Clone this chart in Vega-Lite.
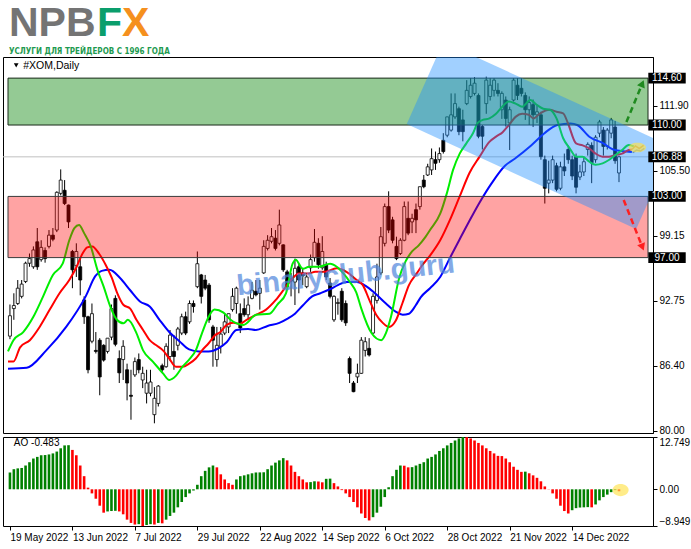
{
"$schema": "https://vega.github.io/schema/vega-lite/v6.json",
"padding": {"left": 2, "top": 0, "right": 0, "bottom": 0},
"background": "white",
"spacing": 4,
"bounds": "flush",
"config": {"view": {"stroke": "#000", "strokeWidth": 1}, "axis": {"labelFont": "Liberation Sans", "labelFontSize": 10, "labelColor": "#000", "domainColor": "#000", "tickColor": "#000", "grid": false, "title": null}},
"datasets": {
"candles": [
{"i":0,"o":89.3,"h":92.4,"l":89.0,"c":91.3},{"i":1,"o":92.0,"h":93.5,"l":90.9,"c":92.3},{"i":2,"o":92.5,"h":94.8,"l":92.35,"c":94.0},{"i":3,"o":93.2,"h":94.8,"l":93.0,"c":94.4},{"i":4,"o":94.65,"h":96.6,"l":94.5,"c":96.45},{"i":5,"o":96.45,"h":97.4,"l":96.1,"c":96.9},{"i":6,"o":96.1,"h":98.1,"l":95.9,"c":97.75},{"i":7,"o":98.55,"h":99.9,"l":95.8,"c":96.1},{"i":8,"o":96.8,"h":98.7,"l":96.6,"c":98.0},{"i":9,"o":97.7,"h":98.0,"l":96.5,"c":96.9},
{"i":10,"o":98.1,"h":99.7,"l":97.9,"c":99.2},{"i":11,"o":99.2,"h":99.9,"l":98.6,"c":98.8},{"i":12,"o":99.7,"h":103.5,"l":99.5,"c":103.4},{"i":13,"o":103.3,"h":105.65,"l":103.1,"c":104.6},{"i":14,"o":103.6,"h":104.6,"l":102.15,"c":102.3},{"i":15,"o":102.15,"h":102.2,"l":99.9,"c":100.5},{"i":16,"o":97.6,"h":97.75,"l":94.0,"c":95.8},{"i":17,"o":96.2,"h":98.4,"l":95.1,"c":97.6},{"i":18,"o":96.1,"h":96.9,"l":93.3,"c":94.8},{"i":19,"o":92.85,"h":93.2,"l":90.5,"c":91.2},
{"i":20,"o":91.2,"h":91.3,"l":85.65,"c":86.0},{"i":21,"o":88.8,"h":92.5,"l":88.6,"c":91.5},{"i":22,"o":87.9,"h":89.7,"l":87.6,"c":87.8},{"i":23,"o":88.9,"h":89.1,"l":83.5,"c":85.3},{"i":24,"o":88.4,"h":88.5,"l":86.8,"c":86.95},{"i":25,"o":87.8,"h":89.1,"l":87.6,"c":89.1},{"i":26,"o":89.2,"h":92.4,"l":88.9,"c":92.0},{"i":27,"o":93.0,"h":93.3,"l":88.3,"c":88.5},{"i":28,"o":87.1,"h":87.9,"l":84.7,"c":85.7},{"i":29,"o":87.0,"h":88.9,"l":85.0,"c":88.3},
{"i":30,"o":86.0,"h":86.6,"l":83.0,"c":84.7},{"i":31,"o":83.5,"h":86.0,"l":81.1,"c":83.4},{"i":32,"o":85.5,"h":87.2,"l":85.3,"c":86.8},{"i":33,"o":87.0,"h":87.6,"l":85.65,"c":86.0},{"i":34,"o":85.0,"h":86.3,"l":84.2,"c":85.65},{"i":35,"o":83.7,"h":86.0,"l":82.7,"c":84.7},{"i":36,"o":83.7,"h":86.0,"l":83.4,"c":84.8},{"i":37,"o":81.6,"h":84.3,"l":80.75,"c":83.2},{"i":38,"o":82.7,"h":84.5,"l":82.4,"c":84.4},{"i":39,"o":86.4,"h":86.6,"l":85.8,"c":86.0},
{"i":40,"o":86.3,"h":88.6,"l":86.2,"c":88.3},{"i":41,"o":87.3,"h":89.9,"l":86.9,"c":89.4},{"i":42,"o":87.8,"h":89.4,"l":86.0,"c":87.3},{"i":43,"o":88.4,"h":90.2,"l":87.9,"c":90.0},{"i":44,"o":89.6,"h":91.5,"l":89.4,"c":91.2},{"i":45,"o":91.2,"h":91.7,"l":89.4,"c":89.6},{"i":46,"o":90.7,"h":92.8,"l":90.5,"c":92.5},{"i":47,"o":92.5,"h":92.8,"l":91.6,"c":92.2},{"i":48,"o":94.15,"h":97.6,"l":94.0,"c":96.4},{"i":49,"o":95.3,"h":95.4,"l":92.5,"c":93.2},
{"i":50,"o":94.8,"h":95.3,"l":93.8,"c":94.0},{"i":51,"o":94.3,"h":94.5,"l":90.6,"c":90.9},{"i":52,"o":90.2,"h":90.4,"l":86.3,"c":88.9},{"i":53,"o":87.0,"h":90.2,"l":86.3,"c":88.4},{"i":54,"o":88.3,"h":90.2,"l":87.6,"c":89.5},{"i":55,"o":89.6,"h":91.5,"l":89.4,"c":90.7},{"i":56,"o":90.2,"h":91.5,"l":89.6,"c":91.5},{"i":57,"o":91.9,"h":94.0,"l":91.7,"c":93.2},{"i":58,"o":92.5,"h":94.15,"l":91.5,"c":94.0},{"i":59,"o":91.5,"h":92.5,"l":89.6,"c":90.1},
{"i":60,"o":92.0,"h":93.0,"l":91.2,"c":91.4},{"i":61,"o":91.4,"h":93.2,"l":90.9,"c":92.35},{"i":62,"o":93.0,"h":94.6,"l":92.9,"c":93.8},{"i":63,"o":93.7,"h":94.8,"l":93.2,"c":93.35},{"i":64,"o":93.5,"h":94.8,"l":91.9,"c":94.0},{"i":65,"o":95.5,"h":98.7,"l":95.4,"c":98.1},{"i":66,"o":97.9,"h":99.2,"l":97.7,"c":98.7},{"i":67,"o":98.6,"h":99.9,"l":98.4,"c":99.05},{"i":68,"o":98.9,"h":99.7,"l":97.7,"c":97.9},{"i":69,"o":98.4,"h":101.7,"l":98.2,"c":100.2},
{"i":70,"o":98.25,"h":98.3,"l":95.6,"c":95.8},{"i":71,"o":95.6,"h":95.8,"l":94.0,"c":94.15},{"i":72,"o":94.9,"h":95.5,"l":93.2,"c":94.7},{"i":73,"o":94.6,"h":96.9,"l":92.35,"c":95.95},{"i":74,"o":96.1,"h":96.4,"l":93.5,"c":94.8},{"i":75,"o":95.5,"h":96.0,"l":94.3,"c":95.2},{"i":76,"o":94.15,"h":95.3,"l":94.0,"c":95.1},{"i":77,"o":96.0,"h":97.3,"l":95.6,"c":96.8},{"i":78,"o":97.0,"h":99.8,"l":96.6,"c":98.5},{"i":79,"o":98.4,"h":98.9,"l":95.9,"c":96.3},
{"i":80,"o":96.0,"h":99.1,"l":95.8,"c":97.6},{"i":81,"o":96.3,"h":96.6,"l":94.8,"c":95.1},{"i":82,"o":94.5,"h":95.0,"l":93.0,"c":93.2},{"i":83,"o":90.9,"h":93.3,"l":90.7,"c":93.2},{"i":84,"o":92.5,"h":93.0,"l":91.4,"c":92.6},{"i":85,"o":93.7,"h":94.0,"l":90.7,"c":90.9},{"i":86,"o":92.5,"h":92.8,"l":90.3,"c":90.6},{"i":87,"o":87.1,"h":87.3,"l":84.7,"c":85.65},{"i":88,"o":84.7,"h":84.9,"l":83.8,"c":83.85},{"i":89,"o":85.3,"h":86.6,"l":84.7,"c":85.65},
{"i":90,"o":85.65,"h":89.2,"l":85.6,"c":88.9},{"i":91,"o":87.9,"h":89.2,"l":87.3,"c":88.75},{"i":92,"o":88.1,"h":89.1,"l":87.3,"c":87.45},{"i":93,"o":89.6,"h":93.5,"l":89.5,"c":93.2},{"i":94,"o":92.8,"h":96.4,"l":92.5,"c":95.1},{"i":95,"o":95.5,"h":100.0,"l":95.3,"c":99.05},{"i":96,"o":98.4,"h":102.3,"l":98.1,"c":102.0},{"i":97,"o":102.0,"h":103.5,"l":99.4,"c":99.7},{"i":98,"o":100.7,"h":101.0,"l":98.4,"c":98.7},{"i":99,"o":98.1,"h":99.05,"l":96.75,"c":96.9},
{"i":100,"o":97.4,"h":98.9,"l":97.25,"c":98.7},{"i":101,"o":98.7,"h":102.5,"l":98.6,"c":102.0},{"i":102,"o":100.85,"h":102.5,"l":99.2,"c":99.4},{"i":103,"o":100.5,"h":101.3,"l":99.4,"c":100.85},{"i":104,"o":101.7,"h":102.3,"l":99.4,"c":100.7},{"i":105,"o":102.0,"h":103.95,"l":101.7,"c":103.95},{"i":106,"o":104.6,"h":105.1,"l":103.8,"c":103.95},{"i":107,"o":105.1,"h":106.2,"l":105.0,"c":105.9},{"i":108,"o":105.6,"h":107.7,"l":105.1,"c":106.7},{"i":109,"o":106.6,"h":107.4,"l":105.6,"c":106.25},
{"i":110,"o":106.6,"h":107.8,"l":106.3,"c":107.2},{"i":111,"o":108.5,"h":109.2,"l":107.2,"c":107.4},{"i":112,"o":109.0,"h":110.8,"l":108.8,"c":110.8},{"i":113,"o":109.5,"h":113.1,"l":109.35,"c":111.0},{"i":114,"o":110.8,"h":113.1,"l":110.6,"c":112.1},{"i":115,"o":111.6,"h":111.8,"l":109.0,"c":109.35},{"i":116,"o":110.5,"h":111.5,"l":108.4,"c":109.35},{"i":117,"o":112.1,"h":114.4,"l":111.95,"c":113.4},{"i":118,"o":112.8,"h":114.6,"l":112.6,"c":113.9},{"i":119,"o":113.1,"h":114.7,"l":112.9,"c":114.1},
{"i":120,"o":112.9,"h":113.1,"l":108.7,"c":108.9},{"i":121,"o":109.85,"h":110.0,"l":107.6,"c":108.9},{"i":122,"o":112.1,"h":114.75,"l":111.1,"c":114.4},{"i":123,"o":112.8,"h":114.6,"l":112.4,"c":113.9},{"i":124,"o":113.4,"h":114.6,"l":112.8,"c":114.4},{"i":125,"o":113.4,"h":114.1,"l":112.8,"c":113.1},{"i":126,"o":111.5,"h":113.3,"l":110.6,"c":113.1},{"i":127,"o":112.45,"h":112.8,"l":109.85,"c":110.65},{"i":128,"o":110.2,"h":111.8,"l":107.55,"c":111.5},{"i":129,"o":112.45,"h":114.6,"l":112.3,"c":114.4},
{"i":130,"o":113.9,"h":114.6,"l":112.45,"c":112.9},{"i":131,"o":113.6,"h":114.6,"l":112.8,"c":113.1},{"i":132,"o":112.9,"h":113.2,"l":110.5,"c":111.5},{"i":133,"o":111.5,"h":112.8,"l":110.0,"c":112.2},{"i":134,"o":112.0,"h":112.5,"l":109.8,"c":111.0},{"i":135,"o":111.0,"h":112.0,"l":110.2,"c":111.3},{"i":136,"o":111.0,"h":111.3,"l":106.6,"c":106.9},{"i":137,"o":106.6,"h":107.0,"l":102.3,"c":103.8},{"i":138,"o":104.3,"h":106.5,"l":103.3,"c":104.6},{"i":139,"o":104.6,"h":107.0,"l":104.3,"c":106.6},
{"i":140,"o":106.0,"h":106.3,"l":103.5,"c":103.7},{"i":141,"o":103.8,"h":106.4,"l":103.6,"c":105.9},{"i":142,"o":105.9,"h":107.2,"l":105.0,"c":105.5},{"i":143,"o":107.6,"h":108.0,"l":106.2,"c":106.6},{"i":144,"o":106.6,"h":107.0,"l":104.6,"c":105.0},{"i":145,"o":106.9,"h":107.2,"l":103.3,"c":103.9},{"i":146,"o":104.9,"h":106.1,"l":104.6,"c":105.4},{"i":147,"o":105.4,"h":106.9,"l":105.0,"c":106.4},{"i":148,"o":107.6,"h":108.3,"l":107.0,"c":108.1},{"i":149,"o":108.0,"h":108.3,"l":104.3,"c":106.3},
{"i":150,"o":106.6,"h":109.0,"l":106.3,"c":108.8},{"i":151,"o":109.2,"h":110.5,"l":108.8,"c":110.3},{"i":152,"o":109.5,"h":109.8,"l":107.0,"c":107.9},{"i":153,"o":107.9,"h":109.7,"l":107.6,"c":109.5},{"i":154,"o":109.2,"h":110.7,"l":108.7,"c":110.5},{"i":155,"o":109.8,"h":110.4,"l":106.2,"c":106.5},{"i":156,"o":105.3,"h":107.0,"l":104.4,"c":106.88}
],
"ma": [
{"s":"jaw","i":-0.5,"v":86.1},{"s":"jaw","i":4.3,"v":86.2},{"s":"jaw","i":9.3,"v":87.9},{"s":"jaw","i":14.4,"v":90.2},{"s":"jaw","i":19.4,"v":93.2},{"s":"jaw","i":21.9,"v":95.2},{"s":"jaw","i":23.5,"v":95.7},{"s":"jaw","i":25.5,"v":95.8},{"s":"jaw","i":28.2,"v":95.0},{"s":"jaw","i":30.8,"v":93.8},{"s":"jaw","i":33.3,"v":92.7},{"s":"jaw","i":35.8,"v":92.2},{"s":"jaw","i":38.3,"v":90.9},{"s":"jaw","i":40.8,"v":89.7},{"s":"jaw","i":43.4,"v":88.8},{"s":"jaw","i":45.9,"v":88.0},{"s":"jaw","i":48.4,"v":87.8},{"s":"jaw","i":50.9,"v":87.8},{"s":"jaw","i":53.4,"v":88.1},{"s":"jaw","i":55.5,"v":88.7},{"s":"jaw","i":58,"v":89.9},{"s":"jaw","i":61,"v":90.0},{"s":"jaw","i":63,"v":89.9},{"s":"jaw","i":66,"v":90.3},{"s":"jaw","i":69,"v":90.6},{"s":"jaw","i":71,"v":91.0},{"s":"jaw","i":73,"v":91.5},{"s":"jaw","i":75,"v":92.3},{"s":"jaw","i":77.4,"v":93.2},{"s":"jaw","i":79.5,"v":93.5},{"s":"jaw","i":82,"v":93.9},{"s":"jaw","i":84,"v":94.3},{"s":"jaw","i":86.2,"v":94.6},{"s":"jaw","i":88.8,"v":94.6},{"s":"jaw","i":91.2,"v":94.2},{"s":"jaw","i":93.5,"v":93.5},{"s":"jaw","i":96.3,"v":92.5},{"s":"jaw","i":98.8,"v":91.7},{"s":"jaw","i":100.6,"v":91.4},{"s":"jaw","i":102.2,"v":91.5},{"s":"jaw","i":103.9,"v":92.3},{"s":"jaw","i":105.2,"v":93.1},{"s":"jaw","i":107.6,"v":94.0},{"s":"jaw","i":110.2,"v":95.1},{"s":"jaw","i":112.6,"v":96.9},{"s":"jaw","i":115.2,"v":98.8},{"s":"jaw","i":118.4,"v":101.1},{"s":"jaw","i":120.3,"v":102.4},{"s":"jaw","i":123.4,"v":104.3},{"s":"jaw","i":126.8,"v":106.0},{"s":"jaw","i":129.3,"v":106.7},{"s":"jaw","i":133.5,"v":108.0},{"s":"jaw","i":136.9,"v":109.2},{"s":"jaw","i":140.2,"v":110.0},{"s":"jaw","i":143.6,"v":110.15},{"s":"jaw","i":145.3,"v":110.0},{"s":"jaw","i":148.6,"v":108.8},{"s":"jaw","i":152,"v":108.2},{"s":"jaw","i":154.5,"v":107.6},{"s":"jaw","i":157.9,"v":107.4},{"s":"jaw","i":159.3,"v":107.35},
{"s":"teeth","i":-0.5,"v":86.8},{"s":"teeth","i":0.9,"v":86.8},{"s":"teeth","i":2.6,"v":88.2},{"s":"teeth","i":5.1,"v":88.9},{"s":"teeth","i":7.6,"v":90.2},{"s":"teeth","i":10.2,"v":91.9},{"s":"teeth","i":12.7,"v":93.5},{"s":"teeth","i":15.2,"v":94.8},{"s":"teeth","i":16.9,"v":95.95},{"s":"teeth","i":18.6,"v":97.4},{"s":"teeth","i":19.8,"v":98.0},{"s":"teeth","i":21.1,"v":98.1},{"s":"teeth","i":22.8,"v":97.4},{"s":"teeth","i":24.5,"v":96.3},{"s":"teeth","i":26.1,"v":95.0},{"s":"teeth","i":27.4,"v":93.6},{"s":"teeth","i":29.1,"v":92.35},{"s":"teeth","i":30.8,"v":92.0},{"s":"teeth","i":32.4,"v":90.9},{"s":"teeth","i":34.1,"v":89.9},{"s":"teeth","i":35.8,"v":88.9},{"s":"teeth","i":37.5,"v":88.4},{"s":"teeth","i":39.2,"v":87.9},{"s":"teeth","i":40.8,"v":87.1},{"s":"teeth","i":42.5,"v":86.3},{"s":"teeth","i":44.2,"v":86.3},{"s":"teeth","i":45.9,"v":86.6},{"s":"teeth","i":47.6,"v":87.1},{"s":"teeth","i":49.2,"v":87.9},{"s":"teeth","i":50.9,"v":88.6},{"s":"teeth","i":52.6,"v":89.4},{"s":"teeth","i":53.9,"v":89.7},{"s":"teeth","i":55.5,"v":90.4},{"s":"teeth","i":57.2,"v":90.6},{"s":"teeth","i":58.9,"v":90.5},{"s":"teeth","i":60.6,"v":90.9},{"s":"teeth","i":63.1,"v":91.4},{"s":"teeth","i":65.6,"v":91.9},{"s":"teeth","i":68.1,"v":92.85},{"s":"teeth","i":70.7,"v":94.15},{"s":"teeth","i":72.4,"v":94.97},{"s":"teeth","i":74.0,"v":95.45},{"s":"teeth","i":76.5,"v":95.45},{"s":"teeth","i":78.2,"v":95.6},{"s":"teeth","i":80.5,"v":95.6},{"s":"teeth","i":83.7,"v":95.95},{"s":"teeth","i":86.2,"v":95.6},{"s":"teeth","i":88.5,"v":94.9},{"s":"teeth","i":90.4,"v":94.3},{"s":"teeth","i":92.1,"v":92.8},{"s":"teeth","i":93.8,"v":91.4},{"s":"teeth","i":95.5,"v":90.6},{"s":"teeth","i":97.1,"v":90.2},{"s":"teeth","i":98.8,"v":90.8},{"s":"teeth","i":100.5,"v":92.5},{"s":"teeth","i":102.2,"v":94.3},{"s":"teeth","i":104.3,"v":95.5},{"s":"teeth","i":105.5,"v":96.2},{"s":"teeth","i":107.6,"v":97.2},{"s":"teeth","i":110.2,"v":98.7},{"s":"teeth","i":112.7,"v":100.7},{"s":"teeth","i":115.2,"v":103.0},{"s":"teeth","i":117.7,"v":105.3},{"s":"teeth","i":120.3,"v":106.9},{"s":"teeth","i":122.8,"v":108.35},{"s":"teeth","i":124.5,"v":108.86},{"s":"teeth","i":126.2,"v":109.3},{"s":"teeth","i":127.8,"v":110.0},{"s":"teeth","i":129.5,"v":110.8},{"s":"teeth","i":131.2,"v":111.1},{"s":"teeth","i":132.9,"v":111.0},{"s":"teeth","i":134.1,"v":110.65},{"s":"teeth","i":135.8,"v":111.15},{"s":"teeth","i":138.3,"v":111.5},{"s":"teeth","i":140.0,"v":111.3},{"s":"teeth","i":141.7,"v":111.15},{"s":"teeth","i":142.9,"v":110.2},{"s":"teeth","i":145.0,"v":108.2},{"s":"teeth","i":146.7,"v":108.0},{"s":"teeth","i":148.4,"v":107.7},{"s":"teeth","i":150.0,"v":107.2},{"s":"teeth","i":151.8,"v":106.9},{"s":"teeth","i":153.4,"v":106.9},{"s":"teeth","i":155.1,"v":107.06},{"s":"teeth","i":156.8,"v":107.2},{"s":"teeth","i":158.5,"v":107.55},{"s":"teeth","i":159.3,"v":107.6},
{"s":"lips","i":-0.5,"v":87.8},{"s":"lips","i":0.9,"v":88.9},{"s":"lips","i":3.4,"v":89.7},{"s":"lips","i":6.0,"v":91.2},{"s":"lips","i":8.5,"v":93.2},{"s":"lips","i":11.0,"v":95.3},{"s":"lips","i":13.5,"v":96.4},{"s":"lips","i":15.2,"v":98.7},{"s":"lips","i":16.5,"v":99.9},{"s":"lips","i":17.7,"v":100.2},{"s":"lips","i":19.0,"v":99.4},{"s":"lips","i":20.7,"v":98.1},{"s":"lips","i":22.4,"v":95.8},{"s":"lips","i":24.0,"v":94.15},{"s":"lips","i":25.7,"v":92.2},{"s":"lips","i":27.4,"v":90.9},{"s":"lips","i":29.1,"v":90.55},{"s":"lips","i":30.2,"v":90.9},{"s":"lips","i":32.4,"v":89.6},{"s":"lips","i":34.1,"v":87.9},{"s":"lips","i":36.6,"v":86.8},{"s":"lips","i":39.2,"v":85.65},{"s":"lips","i":40.8,"v":85.0},{"s":"lips","i":42.5,"v":85.4},{"s":"lips","i":44.2,"v":86.3},{"s":"lips","i":45.9,"v":87.0},{"s":"lips","i":47.6,"v":87.9},{"s":"lips","i":49.2,"v":89.6},{"s":"lips","i":50.9,"v":91.2},{"s":"lips","i":52.4,"v":91.9},{"s":"lips","i":54.7,"v":91.6},{"s":"lips","i":56.5,"v":90.9},{"s":"lips","i":58.1,"v":90.55},{"s":"lips","i":59.8,"v":90.4},{"s":"lips","i":63.1,"v":91.4},{"s":"lips","i":66.5,"v":91.5},{"s":"lips","i":68.5,"v":92.4},{"s":"lips","i":70.7,"v":93.5},{"s":"lips","i":72.4,"v":96.4},{"s":"lips","i":73.2,"v":96.8},{"s":"lips","i":75.0,"v":95.9},{"s":"lips","i":76.6,"v":96.1},{"s":"lips","i":79.1,"v":96.1},{"s":"lips","i":82.0,"v":96.4},{"s":"lips","i":83.7,"v":96.1},{"s":"lips","i":85.4,"v":95.45},{"s":"lips","i":87.1,"v":94.6},{"s":"lips","i":88.7,"v":93.6},{"s":"lips","i":90.0,"v":92.0},{"s":"lips","i":92.6,"v":89.6},{"s":"lips","i":95.1,"v":88.9},{"s":"lips","i":96.3,"v":89.6},{"s":"lips","i":97.6,"v":91.2},{"s":"lips","i":99.7,"v":95.0},{"s":"lips","i":101.3,"v":96.6},{"s":"lips","i":103.0,"v":97.6},{"s":"lips","i":104.7,"v":98.2},{"s":"lips","i":106.4,"v":99.0},{"s":"lips","i":107.6,"v":99.7},{"s":"lips","i":110.2,"v":101.3},{"s":"lips","i":111.9,"v":103.3},{"s":"lips","i":113.5,"v":105.6},{"s":"lips","i":115.2,"v":107.2},{"s":"lips","i":116.9,"v":108.2},{"s":"lips","i":118.6,"v":109.2},{"s":"lips","i":119.8,"v":110.2},{"s":"lips","i":121.1,"v":110.5},{"s":"lips","i":122.8,"v":110.65},{"s":"lips","i":124.5,"v":111.1},{"s":"lips","i":126.1,"v":111.8},{"s":"lips","i":127.8,"v":112.3},{"s":"lips","i":129.5,"v":112.1},{"s":"lips","i":131.2,"v":111.8},{"s":"lips","i":133.3,"v":112.45},{"s":"lips","i":135,"v":111.96},{"s":"lips","i":136.6,"v":111.6},{"s":"lips","i":138.3,"v":111.5},{"s":"lips","i":140,"v":110.65},{"s":"lips","i":141.7,"v":108.7},{"s":"lips","i":143.4,"v":107.7},{"s":"lips","i":145,"v":106.9},{"s":"lips","i":146.7,"v":106.9},{"s":"lips","i":148.4,"v":106.4},{"s":"lips","i":150,"v":106.1},{"s":"lips","i":151.8,"v":106.24},{"s":"lips","i":153.4,"v":106.57},{"s":"lips","i":155.1,"v":107.06},{"s":"lips","i":156.8,"v":107.55},{"s":"lips","i":158.5,"v":108.04},{"s":"lips","i":159.8,"v":107.9}
],
"ext": [{"s":"a","i":159.3,"v":107.6},{"s":"a","i":160.2,"v":107.95},{"s":"a","i":161.2,"v":107.7},{"s":"a","i":162.3,"v":108.0},{"s":"b","i":159.5,"v":107.3},{"s":"b","i":160.5,"v":107.55},{"s":"b","i":161.5,"v":107.45},{"s":"b","i":162.5,"v":107.7}],
"zones": [{"z":"buy","lo":110,"hi":114.6},{"z":"sell","lo":97,"hi":103}],
"channel": [{"i":101.64,"top":110.10,"bot":110.10},{"i":110.97,"top":118.14,"bot":108.46},{"i":160.41,"top":109.48,"bot":99.80},{"i":169.74,"top":107.84,"bot":107.84}],
"arrows": [{"dir":"up","i1":157.9,"p1":110.3,"i2":161.97,"p2":114.06},{"dir":"down","i1":157.2,"p1":102.65,"i2":162.0,"p2":98.03}],
"levels": [{"v":114.6},{"v":110},{"v":106.88},{"v":103},{"v":97}],
"ao": [
{"i":0,"v":4.1,"dir":"up"},{"i":1,"v":4.9,"dir":"up"},{"i":2,"v":5.1,"dir":"up"},{"i":3,"v":5.2,"dir":"up"},{"i":4,"v":5.8,"dir":"up"},{"i":5,"v":6.6,"dir":"up"},{"i":6,"v":7.5,"dir":"up"},{"i":7,"v":7.9,"dir":"up"},{"i":8,"v":8.3,"dir":"up"},{"i":9,"v":8.35,"dir":"up"},
{"i":10,"v":8.5,"dir":"up"},{"i":11,"v":8.75,"dir":"up"},{"i":12,"v":9.2,"dir":"up"},{"i":13,"v":10.0,"dir":"up"},{"i":14,"v":10.7,"dir":"up"},{"i":15,"v":10.75,"dir":"up"},{"i":16,"v":9.6,"dir":"down"},{"i":17,"v":8.3,"dir":"down"},{"i":18,"v":5.8,"dir":"down"},{"i":19,"v":3.2,"dir":"down"},
{"i":20,"v":0.4,"dir":"down"},{"i":21,"v":-1.0,"dir":"down"},{"i":22,"v":-2.3,"dir":"down"},{"i":23,"v":-4.0,"dir":"down"},{"i":24,"v":-5.7,"dir":"down"},{"i":25,"v":-5.4,"dir":"up"},{"i":26,"v":-5.3,"dir":"up"},{"i":27,"v":-5.25,"dir":"up"},{"i":28,"v":-5.4,"dir":"down"},{"i":29,"v":-6.1,"dir":"down"},
{"i":30,"v":-7.4,"dir":"down"},{"i":31,"v":-8.2,"dir":"down"},{"i":32,"v":-8.6,"dir":"down"},{"i":33,"v":-8.5,"dir":"up"},{"i":34,"v":-8.949,"dir":"down"},{"i":35,"v":-8.7,"dir":"up"},{"i":36,"v":-8.5,"dir":"up"},{"i":37,"v":-8.6,"dir":"down"},{"i":38,"v":-8.2,"dir":"up"},{"i":39,"v":-8.3,"dir":"down"},
{"i":40,"v":-7.4,"dir":"up"},{"i":41,"v":-6.5,"dir":"up"},{"i":42,"v":-5.7,"dir":"up"},{"i":43,"v":-4.4,"dir":"up"},{"i":44,"v":-3.1,"dir":"up"},{"i":45,"v":-1.9,"dir":"up"},{"i":46,"v":-1.0,"dir":"up"},{"i":47,"v":-0.3,"dir":"up"},{"i":48,"v":1.1,"dir":"up"},{"i":49,"v":3.2,"dir":"up"},
{"i":50,"v":4.5,"dir":"up"},{"i":51,"v":5.35,"dir":"up"},{"i":52,"v":5.8,"dir":"up"},{"i":53,"v":5.35,"dir":"down"},{"i":54,"v":3.65,"dir":"down"},{"i":55,"v":2.4,"dir":"down"},{"i":56,"v":1.5,"dir":"down"},{"i":57,"v":1.1,"dir":"down"},{"i":58,"v":2.4,"dir":"up"},{"i":59,"v":3.2,"dir":"up"},
{"i":60,"v":3.4,"dir":"up"},{"i":61,"v":3.65,"dir":"up"},{"i":62,"v":3.9,"dir":"up"},{"i":63,"v":4.1,"dir":"up"},{"i":64,"v":4.12,"dir":"up"},{"i":65,"v":4.15,"dir":"up"},{"i":66,"v":4.9,"dir":"up"},{"i":67,"v":5.8,"dir":"up"},{"i":68,"v":6.5,"dir":"up"},{"i":69,"v":7.05,"dir":"up"},
{"i":70,"v":7.6,"dir":"up"},{"i":71,"v":7.05,"dir":"down"},{"i":72,"v":5.8,"dir":"down"},{"i":73,"v":4.25,"dir":"down"},{"i":74,"v":3.2,"dir":"down"},{"i":75,"v":2.4,"dir":"down"},{"i":76,"v":1.7,"dir":"down"},{"i":77,"v":1.75,"dir":"up"},{"i":78,"v":1.95,"dir":"up"},{"i":79,"v":1.9,"dir":"down"},
{"i":80,"v":1.7,"dir":"down"},{"i":81,"v":2.55,"dir":"up"},{"i":82,"v":2.6,"dir":"up"},{"i":83,"v":1.5,"dir":"down"},{"i":84,"v":0.7,"dir":"down"},{"i":85,"v":-0.2,"dir":"down"},{"i":86,"v":-1.0,"dir":"down"},{"i":87,"v":-1.9,"dir":"down"},{"i":88,"v":-3.1,"dir":"down"},{"i":89,"v":-4.4,"dir":"down"},
{"i":90,"v":-5.9,"dir":"down"},{"i":91,"v":-7.0,"dir":"down"},{"i":92,"v":-7.6,"dir":"down"},{"i":93,"v":-6.8,"dir":"up"},{"i":94,"v":-5.7,"dir":"up"},{"i":95,"v":-4.25,"dir":"up"},{"i":96,"v":-1.9,"dir":"up"},{"i":97,"v":0.5,"dir":"up"},{"i":98,"v":3.2,"dir":"up"},{"i":99,"v":4.75,"dir":"up"},
{"i":100,"v":5.8,"dir":"up"},{"i":101,"v":5.75,"dir":"down"},{"i":102,"v":5.35,"dir":"down"},{"i":103,"v":5.4,"dir":"up"},{"i":104,"v":5.8,"dir":"up"},{"i":105,"v":6.2,"dir":"up"},{"i":106,"v":6.6,"dir":"up"},{"i":107,"v":7.5,"dir":"up"},{"i":108,"v":7.9,"dir":"up"},{"i":109,"v":8.5,"dir":"up"},
{"i":110,"v":9.35,"dir":"up"},{"i":111,"v":10.0,"dir":"up"},{"i":112,"v":10.7,"dir":"up"},{"i":113,"v":11.3,"dir":"up"},{"i":114,"v":11.9,"dir":"up"},{"i":115,"v":12.4,"dir":"up"},{"i":116,"v":12.749,"dir":"up"},{"i":117,"v":12.7,"dir":"down"},{"i":118,"v":12.4,"dir":"down"},{"i":119,"v":11.9,"dir":"down"},
{"i":120,"v":11.3,"dir":"down"},{"i":121,"v":10.7,"dir":"down"},{"i":122,"v":10.0,"dir":"down"},{"i":123,"v":9.35,"dir":"down"},{"i":124,"v":8.75,"dir":"down"},{"i":125,"v":8.15,"dir":"down"},{"i":126,"v":8.1,"dir":"down"},{"i":127,"v":7.5,"dir":"down"},{"i":128,"v":6.6,"dir":"down"},{"i":129,"v":5.5,"dir":"down"},
{"i":130,"v":4.75,"dir":"down"},{"i":131,"v":4.25,"dir":"down"},{"i":132,"v":4.3,"dir":"up"},{"i":133,"v":3.9,"dir":"down"},{"i":134,"v":3.4,"dir":"down"},{"i":135,"v":2.8,"dir":"down"},{"i":136,"v":1.95,"dir":"down"},{"i":137,"v":0.7,"dir":"down"},{"i":138,"v":-0.05,"dir":"down"},{"i":139,"v":-1.0,"dir":"down"},
{"i":140,"v":-2.3,"dir":"down"},{"i":141,"v":-4.0,"dir":"down"},{"i":142,"v":-5.3,"dir":"down"},{"i":143,"v":-5.9,"dir":"down"},{"i":144,"v":-5.1,"dir":"up"},{"i":145,"v":-4.6,"dir":"up"},{"i":146,"v":-4.45,"dir":"up"},{"i":147,"v":-4.4,"dir":"up"},{"i":148,"v":-4.35,"dir":"up"},{"i":149,"v":-4.4,"dir":"down"},
{"i":150,"v":-3.7,"dir":"up"},{"i":151,"v":-2.7,"dir":"up"},{"i":152,"v":-1.9,"dir":"up"},{"i":153,"v":-1.3,"dir":"up"},{"i":154,"v":-0.7,"dir":"up"},{"i":155,"v":-0.2,"dir":"up"},{"i":156,"v":-0.483,"dir":"down"}
]
},
"vconcat": [
{
"width": 650, "height": 53,
"view": {"stroke": null},
"data": {"values": [{}]},
"layer": [
{"mark": {"type": "text", "text": "NPB", "font": "Liberation Sans", "fontWeight": "bold", "fontSize": 41, "fill": "#747474", "align": "left", "baseline": "alphabetic"},
 "encoding": {"x": {"datum": 6, "type": "quantitative", "scale": {"domain": [0, 650], "nice": false, "zero": false}, "axis": null}, "y": {"datum": 36, "type": "quantitative", "scale": {"domain": [0, 53], "reverse": true, "nice": false, "zero": false}, "axis": null}}},
{"mark": {"type": "text", "text": "F", "font": "Liberation Sans", "fontWeight": "bold", "fontSize": 41, "fill": "#0a9e6c", "align": "left", "baseline": "alphabetic"},
 "encoding": {"x": {"datum": 94, "type": "quantitative"}, "y": {"datum": 36, "type": "quantitative"}}},
{"mark": {"type": "text", "text": "X", "font": "Liberation Sans", "fontWeight": "bold", "fontSize": 41, "fill": "#f5901e", "align": "left", "baseline": "alphabetic"},
 "encoding": {"x": {"datum": 119, "type": "quantitative"}, "y": {"datum": 36, "type": "quantitative"}}},
{"mark": {"type": "text", "text": "УСЛУГИ ДЛЯ ТРЕЙДЕРОВ С 1996 ГОДА", "font": "Liberation Sans Narrow, DejaVu Sans Condensed, Liberation Sans", "fontWeight": "bold", "fontSize": 8, "fill": "#1e9a50", "align": "left", "baseline": "alphabetic"},
 "encoding": {"x": {"datum": 6, "type": "quantitative"}, "y": {"datum": 53.5, "type": "quantitative"}}}
]
},
{
"width": 650, "height": 376,
"layer": [
{"data": {"values": [{}]}, "mark": {"type": "rule", "color": "#c0c0c0", "strokeWidth": 1},
 "encoding": {"y": {"datum": 106.88, "type": "quantitative", "scale": {"domain": [79.8, 116.67], "nice": false, "zero": false},
   "axis": {"orient": "right", "values": [80, 83.2, 86.4, 89.6, 92.75, 95.95, 99.15, 102.35, 105.5, 108.7, 111.9, 115.05], "format": ".2f", "tickSize": 4, "labelPadding": 2, "labelFlush": false, "labelOverlap": false, "title": null}}}},
{"data": {"name": "candles"}, "mark": {"type": "rule", "color": "#000", "strokeWidth": 1},
 "encoding": {"x": {"field": "i", "type": "quantitative", "scale": {"domain": [-0.5, 163.43], "nice": false, "zero": false}, "axis": null}, "y": {"field": "l", "type": "quantitative"}, "y2": {"field": "h"}}},
{"data": {"name": "candles"}, "mark": {"type": "bar", "width": 3, "stroke": "#000", "strokeWidth": 0.8},
 "encoding": {"x": {"field": "i", "type": "quantitative"}, "y": {"field": "o", "type": "quantitative"}, "y2": {"field": "c"},
   "fill": {"condition": {"test": "datum.c >= datum.o", "value": "#ffffff"}, "value": "#000000"}}},
{"data": {"name": "ma"}, "mark": {"type": "line", "strokeWidth": 2, "interpolate": "monotone"},
 "encoding": {"x": {"field": "i", "type": "quantitative"}, "y": {"field": "v", "type": "quantitative"},
   "color": {"field": "s", "type": "nominal", "scale": {"domain": ["jaw", "teeth", "lips"], "range": ["#0000ff", "#ff0000", "#00ee00"]}, "legend": null}}},
{"data": {"name": "ext"}, "transform": [{"filter": "datum.s == 'a'"}], "mark": {"type": "line", "strokeWidth": 1.5, "color": "#ff8c00"},
 "encoding": {"x": {"field": "i", "type": "quantitative"}, "y": {"field": "v", "type": "quantitative"}}},
{"data": {"name": "ext"}, "transform": [{"filter": "datum.s == 'b'"}], "mark": {"type": "line", "strokeWidth": 1.5, "color": "#909090"},
 "encoding": {"x": {"field": "i", "type": "quantitative"}, "y": {"field": "v", "type": "quantitative"}}},
{"data": {"name": "zones"}, "transform": [{"filter": "datum.z == 'buy'"}], "mark": {"type": "rect", "fill": "#008000", "fillOpacity": 0.42, "stroke": "#1a2a1a", "strokeWidth": 1},
 "encoding": {"x": {"datum": -0.5, "type": "quantitative"}, "x2": {"datum": 163.43}, "y": {"field": "lo", "type": "quantitative"}, "y2": {"field": "hi"}}},
{"data": {"name": "zones"}, "transform": [{"filter": "datum.z == 'sell'"}], "mark": {"type": "rect", "fill": "#ff0000", "fillOpacity": 0.36, "stroke": "#3a3a3a", "strokeWidth": 1},
 "encoding": {"x": {"datum": -0.5, "type": "quantitative"}, "x2": {"datum": 163.43}, "y": {"field": "lo", "type": "quantitative"}, "y2": {"field": "hi"}}},
{"data": {"name": "channel"}, "mark": {"type": "area", "orient": "vertical", "fill": "#1e90ff", "fillOpacity": 0.42, "clip": true},
 "encoding": {"x": {"field": "i", "type": "quantitative"}, "y": {"field": "top", "type": "quantitative"}, "y2": {"field": "bot"}}},
{"data": {"name": "arrows"}, "transform": [{"filter": "datum.dir == 'up'"}], "mark": {"type": "rule", "color": "#1f8a1f", "strokeWidth": 2.5, "strokeDash": [6, 4]},
 "encoding": {"x": {"field": "i1", "type": "quantitative"}, "x2": {"field": "i2"}, "y": {"field": "p1", "type": "quantitative"}, "y2": {"field": "p2"}}},
{"data": {"name": "arrows"}, "transform": [{"filter": "datum.dir == 'up'"}], "mark": {"type": "point", "shape": "triangle-up", "filled": true, "color": "#1f8a1f", "opacity": 1, "size": 70, "angle": 23},
 "encoding": {"x": {"field": "i2", "type": "quantitative"}, "y": {"field": "p2", "type": "quantitative"}}},
{"data": {"name": "arrows"}, "transform": [{"filter": "datum.dir == 'down'"}], "mark": {"type": "rule", "color": "#ff2020", "strokeWidth": 2.5, "strokeDash": [6, 4]},
 "encoding": {"x": {"field": "i1", "type": "quantitative"}, "x2": {"field": "i2"}, "y": {"field": "p1", "type": "quantitative"}, "y2": {"field": "p2"}}},
{"data": {"name": "arrows"}, "transform": [{"filter": "datum.dir == 'down'"}], "mark": {"type": "point", "shape": "triangle-up", "filled": true, "color": "#ff2020", "opacity": 1, "size": 70, "angle": 158},
 "encoding": {"x": {"field": "i2", "type": "quantitative"}, "y": {"field": "p2", "type": "quantitative"}}},
{"data": {"values": [{}]}, "mark": {"type": "point", "shape": "M-1,0A1,0.55 0 1,0 1,0A1,0.55 0 1,0 -1,0Z", "filled": true, "color": "#ffe24a", "opacity": 0.65, "size": 300},
 "encoding": {"x": {"datum": 160.7, "type": "quantitative"}, "y": {"datum": 107.8, "type": "quantitative"}}},
{"data": {"values": [{}]}, "mark": {"type": "text", "text": "binaryclub.guru", "font": "Liberation Sans", "fontWeight": "bold", "fontSize": 29, "fill": "#4f86dc", "opacity": 0.7, "angle": -6, "align": "center", "baseline": "middle"},
 "encoding": {"x": {"datum": 86.0, "type": "quantitative"}, "y": {"datum": 95.3, "type": "quantitative"}}},
{"data": {"values": [{}]}, "mark": {"type": "point", "shape": "triangle-down", "filled": true, "color": "#000", "opacity": 1, "size": 22},
 "encoding": {"x": {"datum": 1.6, "type": "quantitative"}, "y": {"datum": 115.85, "type": "quantitative"}}},
{"data": {"values": [{}]}, "mark": {"type": "text", "text": "#XOM,Daily", "font": "Liberation Sans", "fontSize": 10.5, "fill": "#000", "align": "left", "baseline": "middle"},
 "encoding": {"x": {"datum": 3.4, "type": "quantitative"}, "y": {"datum": 115.8, "type": "quantitative"}}},
{"data": {"name": "levels"}, "mark": {"type": "point", "shape": "M-1,-0.29H1V0.29H-1Z", "filled": true, "color": "#000", "opacity": 1, "size": 1400},
 "encoding": {"x": {"datum": 168.3, "type": "quantitative"}, "y": {"field": "v", "type": "quantitative"}}},
{"data": {"name": "levels"}, "mark": {"type": "text", "font": "Liberation Sans", "fontSize": 10, "fill": "#ffffff", "align": "center", "baseline": "middle"},
 "encoding": {"x": {"datum": 168.3, "type": "quantitative"}, "y": {"field": "v", "type": "quantitative"}, "text": {"field": "v", "type": "quantitative", "format": ".2f"}}}
]
},
{
"width": 650, "height": 89,
"layer": [
{"data": {"name": "ao"}, "mark": {"type": "bar", "width": 2.6},
 "encoding": {
   "x": {"field": "i", "type": "quantitative", "scale": {"domain": [-0.5, 163.43], "nice": false, "zero": false},
     "axis": {"orient": "bottom", "values": [0, 16, 32, 48, 64, 80, 96, 112, 128, 144], "labelExpr": "['19 May 2022','13 Jun 2022','7 Jul 2022','29 Jul 2022','22 Aug 2022','14 Sep 2022','6 Oct 2022','28 Oct 2022','21 Nov 2022','14 Dec 2022'][round(datum.value/16)]", "labelAlign": "left", "labelFlush": false, "labelOverlap": false, "tickSize": 4, "labelPadding": 2, "domain": false, "title": null}},
   "y": {"field": "v", "type": "quantitative", "scale": {"domain": [-8.949, 12.749], "nice": false, "zero": false},
     "axis": {"orient": "right", "values": [-8.949, 0, 12.749], "labelExpr": "datum.value == 0 ? '0.00' : format(datum.value, '.3f')", "labelFlush": true, "tickSize": 4, "labelPadding": 2, "title": null}},
   "y2": {"datum": 0},
   "fill": {"condition": {"test": "datum.dir == 'up'", "value": "#008000"}, "value": "#ff0000"}}},
{"data": {"values": [{}]}, "mark": {"type": "point", "shape": "M-1,0A1,0.75 0 1,0 1,0A1,0.75 0 1,0 -1,0Z", "filled": true, "color": "#ffe24a", "opacity": 0.65, "size": 260},
 "encoding": {"x": {"datum": 156.4, "type": "quantitative"}, "y": {"datum": -0.2, "type": "quantitative"}}},
{"data": {"values": [{}]}, "mark": {"type": "text", "text": "AO -0.483", "font": "Liberation Sans", "fontSize": 10, "fill": "#000", "align": "left", "baseline": "middle"},
 "encoding": {"x": {"datum": 1.0, "type": "quantitative"}, "y": {"datum": 11.3, "type": "quantitative"}}}
]
}
]
}
